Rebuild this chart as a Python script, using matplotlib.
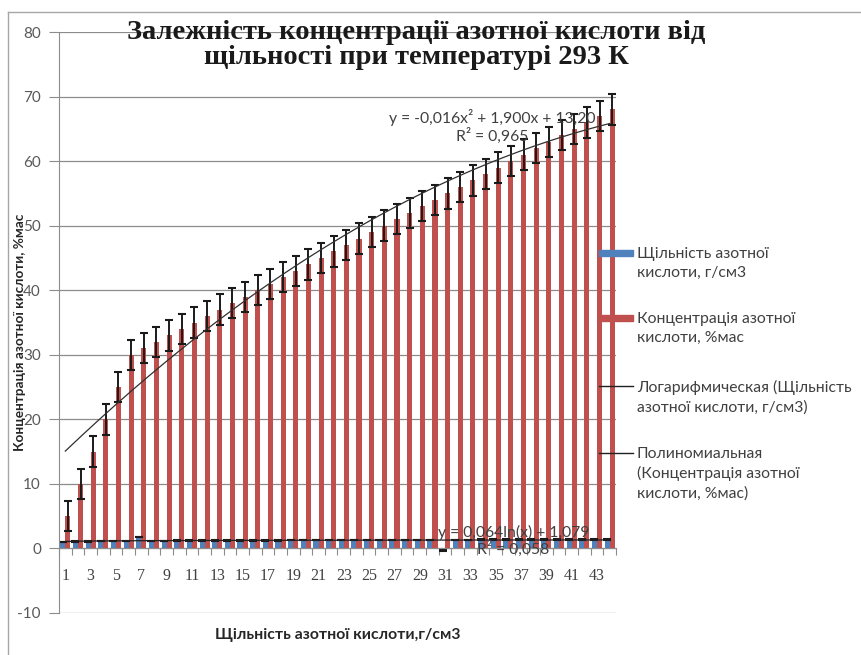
import numpy as np
import matplotlib
matplotlib.use('Agg')
import matplotlib.pyplot as plt
from matplotlib.lines import Line2D
from matplotlib.patches import Rectangle

plt.rcParams['font.family'] = ['Lato', 'DejaVu Sans']
plt.rcParams['axes.unicode_minus'] = False

# дані
nums = list(range(1, 45))
konc = [5, 10, 15, 20, 25, 30, 31, 32, 33, 34, 35, 36, 37, 38, 39, 40, 41, 42, 43, 44, 45, 46,
        47, 48, 49, 50, 51, 52, 53, 54, 55, 56, 57, 58, 59, 60, 61, 62, 63, 64, 65, 66, 67, 68]
shchil = [1.026, 1.054, 1.084, 1.115, 1.147, 1.180, 1.8, 1.193, 1.200, 1.207, 1.213,
          1.220, 1.227, 1.234, 1.240, 1.246, 1.253, 1.259, 1.266, 1.272, 1.278, 1.285,
          1.291, 1.297, 1.304, 1.310, 1.316, 1.322, 1.328, 1.334, -0.3, 1.345, 1.351,
          1.356, 1.361, 1.367, 1.372, 1.377, 1.382, 1.386, 1.391, 1.396, 1.400, 1.405]
err_konc = 2.35
err_shchil = 0.03
poly_k = [-0.016, 1.900, 13.20]   # y = -0,016x² + 1,900x + 13,20
log_k = [0.064, 1.079]            # y = 0,064ln(x) + 1,079

x = np.array(nums)
fig = plt.figure(figsize=(8.62, 6.55), dpi=100)
ax = fig.add_axes([59/862, 1-613/655, 557/862, 581/655])

w = 0.4
ax.bar(x - w/2, shchil, w, color='#4F81BD', zorder=2,
       yerr=err_shchil, error_kw=dict(ecolor='#1a1a1a', lw=1.3, capsize=3, capthick=1.5))
ax.bar(x + w/2, konc, w, color='#C0504D', zorder=2,
       yerr=err_konc, error_kw=dict(ecolor='#1a1a1a', lw=1.4, capsize=3, capthick=1.5))

xs = np.linspace(1, 44, 200)
ax.plot(xs, np.polyval(poly_k, xs), color='#303030', lw=0.9, zorder=3)
ax.plot(xs, log_k[0]*np.log(xs) + log_k[1], color='#202020', lw=0.9, zorder=3)

ax.set_xlim(0.5, 44.5)
ax.set_ylim(-10, 80)
ax.set_yticks(range(-10, 81, 10))
ax.yaxis.grid(True, color='#8c8c8c', lw=0.9, zorder=0)
ax.set_axisbelow(True)
for s in ['top', 'right']:
    ax.spines[s].set_visible(False)
ax.spines['left'].set_color('#8c8c8c')
ax.spines['bottom'].set_position(('data', 0))
ax.spines['bottom'].set_color('#8c8c8c')
ax.tick_params(axis='y', colors='#8c8c8c', length=7, labelcolor='#595959', labelsize=11, pad=6)

ax.set_xticks(np.arange(0.5, 45, 1))
ax.set_xticklabels([])
ax.tick_params(axis='x', which='major', colors='#8c8c8c', length=5)
odd = [n for n in nums if n % 2 == 1]
ax.set_xticks(odd, [str(n) for n in odd], minor=True)
ax.tick_params(axis='x', which='minor', length=0, pad=14, labelcolor='#404040', labelsize=11.5)
for t in ax.get_xticklabels(minor=True):
    t.set_fontfamily('Liberation Serif')

ax.text(34.7, 65.4, 'y = -0,016x² + 1,900x + 13,20\nR² = 0,965', ha='center', va='center',
        fontsize=11.3, color='#404040', linespacing=1.1, zorder=4)
ax.text(36.4, 1.2, 'y = 0,064ln(x) + 1,079\nR² = 0,058', ha='center', va='center',
        fontsize=11.3, color='#404040', linespacing=1.1, zorder=4)

fig.text(0.483, 1-45/655, 'Залежність концентрації азотної кислоти від\nщільності при температурі 293 К',
         ha='center', va='center', fontsize=20.5, fontweight='bold', family='Liberation Serif',
         linespacing=0.95, color='#1a1a1a')
fig.text(338/862, 1-635/655, 'Щільність азотної кислоти,г/см3', ha='center', va='center',
         fontsize=11.3, fontweight='bold', color='#262626')
fig.text(20/862, 1-332/655, 'Концентрація азотної кислоти, %мас', ha='center', va='center',
         rotation=90, fontsize=9.8, fontweight='bold', color='#262626')

# легенда
leg = [('patch', '#4F81BD', 253, 'Щільність азотної\nкислоти, г/см3'),
       ('patch', '#C0504D', 318, 'Концентрація азотної\nкислоти, %мас'),
       ('line', '#202020', 386, 'Логарифмическая (Щільність\nазотної кислоти, г/см3)'),
       ('line', '#202020', 453, 'Полиномиальная\n(Концентрація азотної\nкислоти, %мас)')]
for kind, col, yy, txt in leg:
    yf = 1 - yy/655
    if kind == 'patch':
        fig.add_artist(Rectangle((599/862, yf - 3/655), 34/862, 6/655, color=col,
                                 transform=fig.transFigure))
    else:
        fig.add_artist(Line2D([599/862, 633/862], [yf, yf], color=col, lw=1,
                              transform=fig.transFigure))
    fig.text(637/862, yf + 6/655, txt, ha='left', va='top', fontsize=11.3,
             color='#404040', linespacing=1.45)

# рамка області діаграми
fig.add_artist(Line2D([8/862, 1], [1-12/655, 1-12/655], color='#a6a6a6', lw=1,
                      transform=fig.transFigure))
fig.add_artist(Line2D([8/862, 8/862], [0, 1-12/655], color='#a6a6a6', lw=1,
                      transform=fig.transFigure))

fig.savefig('out.png', dpi=100)
